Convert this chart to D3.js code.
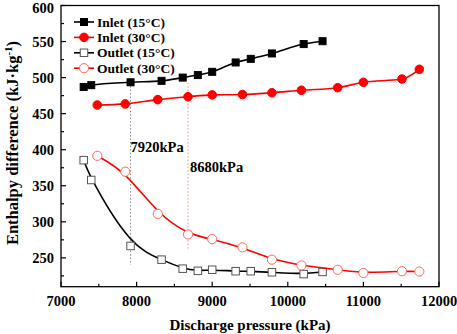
<!DOCTYPE html>
<html>
<head>
<meta charset="utf-8">
<script src="https://cdn.jsdelivr.net/npm/d3@7"></script>
<style>
  body { margin: 0; background: #fff; }
  svg text { font-family: 'Liberation Serif', 'Times New Roman', serif; font-weight: 700; }
</style>
</head>
<body>
<svg width="457" height="334"></svg>
<script>
// pressures (kPa)
const pressure15 = [7300, 7400, 7920, 8330, 8610, 8810, 9000, 9310, 9510, 9790, 10210, 10460];
const pressure30 = [7480, 7850, 8280, 8680, 9000, 9400, 9790, 10180, 10660, 11000, 11510, 11740];

// enthalpy difference (kJ/kg)
const inlet15 = [487, 489.5, 493.5, 495.5, 500, 503.5, 508, 521, 526, 533.5, 546.5, 550.5];
const inlet30 = [462, 463.5, 469.5, 473.5, 476, 476.5, 479, 482.5, 486, 493.5, 498, 511.5];
const outlet15 = [385.5, 358, 266.5, 247.5, 235, 232, 233.5, 231.5, 231.5, 230, 227.5, 230.5];
const outlet30 = [391.5, 369.5, 311, 282.5, 276, 264.5, 247.5, 239.5, 233.5, 229, 231.5, 231];

const xTicks = [7000, 8000, 9000, 10000, 11000, 12000];
const yTicks = [250, 300, 350, 400, 450, 500, 550, 600];

// guide lines at the marked pressures
const guides = [
  {p: 7920, from: 493, to: 240, label: "7920kPa", color: "#888"},
  {p: 8680, from: 493, to: 261, label: "8680kPa", color: "#f28b8b"}
];

const series = [
  {name: "Inlet (15\u00b0C)", x: pressure15, y: inlet15, color: "#000", shape: "square", fill: true, curve: d3.curveMonotoneX},
  {name: "Inlet (30\u00b0C)", x: pressure30, y: inlet30, color: "#f00", shape: "circle", fill: true, curve: d3.curveMonotoneX},
  {name: "Outlet (15\u00b0C)", x: pressure15, y: outlet15, color: "#000", shape: "square", fill: false, curve: d3.curveBasis},
  {name: "Outlet (30\u00b0C)", x: pressure30, y: outlet30, color: "#f00", shape: "circle", fill: false, curve: d3.curveBasis}
];

const svg = d3.select("svg");
const plotL = 61, plotR = 439, plotT = 5.5, plotB = 286.7;

const x = d3.scaleLinear().domain([7000, 12000]).range([plotL, plotR]);
const y = d3.scaleLinear().domain([210, 600]).range([plotB, plotT]);

// frame
svg.append("rect")
  .attr("x", plotL).attr("y", plotT)
  .attr("width", plotR - plotL).attr("height", plotB - plotT)
  .attr("fill", "none").attr("stroke", "#000").attr("stroke-width", 1.3);

// x ticks (inward)
const xMinor = d3.range(7500, 12000, 1000);
svg.append("g").selectAll("line").data(xTicks.concat(xMinor)).join("line")
  .attr("x1", d => x(d)).attr("x2", d => x(d))
  .attr("y1", plotB).attr("y2", d => plotB - (d % 1000 === 0 ? 5 : 3))
  .attr("stroke", "#000").attr("stroke-width", 1.2);
svg.append("g").selectAll("text").data(xTicks).join("text")
  .attr("x", d => x(d)).attr("y", 306)
  .attr("text-anchor", "middle").attr("font-size", 14.5)
  .text(d => d);

// y ticks (inward)
const yMinor = d3.range(225, 600, 50);
svg.append("g").selectAll("line").data(yTicks.concat(yMinor)).join("line")
  .attr("x1", plotL).attr("x2", d => plotL + (d % 50 === 0 ? 5 : 3))
  .attr("y1", d => y(d)).attr("y2", d => y(d))
  .attr("stroke", "#000").attr("stroke-width", 1.2);
svg.append("g").selectAll("text").data(yTicks).join("text")
  .attr("x", 54).attr("y", d => Math.max(y(d) + 5, 13))
  .attr("text-anchor", "end").attr("font-size", 14.5)
  .text(d => d);

// axis titles
svg.append("text")
  .attr("x", 250).attr("y", 330)
  .attr("text-anchor", "middle").attr("font-size", 15)
  .text("Discharge pressure (kPa)");
const yTitle = svg.append("text")
  .attr("transform", "translate(18,143) rotate(-90)")
  .attr("text-anchor", "middle").attr("font-size", 16.5);
yTitle.append("tspan").text("Enthalpy difference (kJ\u00b7kg");
yTitle.append("tspan").attr("dy", -6).attr("font-size", 11).text("-1");
yTitle.append("tspan").attr("dy", 6).text(")");

// guide lines
svg.append("g").selectAll("line").data(guides).join("line")
  .attr("x1", d => x(d.p)).attr("x2", d => x(d.p))
  .attr("y1", d => y(d.from)).attr("y2", d => y(d.to))
  .attr("stroke", d => d.color).attr("stroke-width", 1)
  .attr("stroke-dasharray", "1.5,2");
svg.append("g").selectAll("text").data(guides).join("text")
  .attr("x", (d, i) => x(d.p) + (i === 0 ? 0 : 2))
  .attr("y", (d, i) => i === 0 ? 152 : 172)
  .attr("font-size", 14.5)
  .text(d => d.label);

// series lines and markers
function drawMarker(g, s, cx, cy) {
  if (s.shape === "square") {
    const size = s.fill ? 7 : 7.5;
    g.append("rect")
      .attr("x", cx - size / 2).attr("y", cy - size / 2)
      .attr("width", size).attr("height", size)
      .attr("fill", s.fill ? s.color : "#fff")
      .attr("stroke", s.fill ? s.color : "#555").attr("stroke-width", 1);
  } else {
    g.append("circle")
      .attr("cx", cx).attr("cy", cy).attr("r", s.fill ? 4.3 : 4.6)
      .attr("fill", s.fill ? s.color : "#fff")
      .attr("stroke", s.fill ? s.color : "#f66").attr("stroke-width", 1);
  }
}

series.forEach(s => {
  const pts = s.x.map((p, i) => [x(p), y(s.y[i])]);
  const line = d3.line().curve(s.curve);
  svg.append("path")
    .attr("d", line(pts))
    .attr("fill", "none").attr("stroke", s.color).attr("stroke-width", 1.6);
  const g = svg.append("g");
  pts.forEach(pt => drawMarker(g, s, pt[0], pt[1]));
});

// legend
series.forEach((s, i) => {
  const ly = 22 + i * 15.4;
  const g = svg.append("g");
  g.append("line")
    .attr("x1", 74).attr("x2", 94).attr("y1", ly).attr("y2", ly)
    .attr("stroke", s.color).attr("stroke-width", 1.6);
  drawMarker(g, s, 84, ly);
  g.append("text")
    .attr("x", 97).attr("y", ly + 4.5).attr("font-size", 13.5)
    .text(s.name);
});
</script>
</body>
</html>
